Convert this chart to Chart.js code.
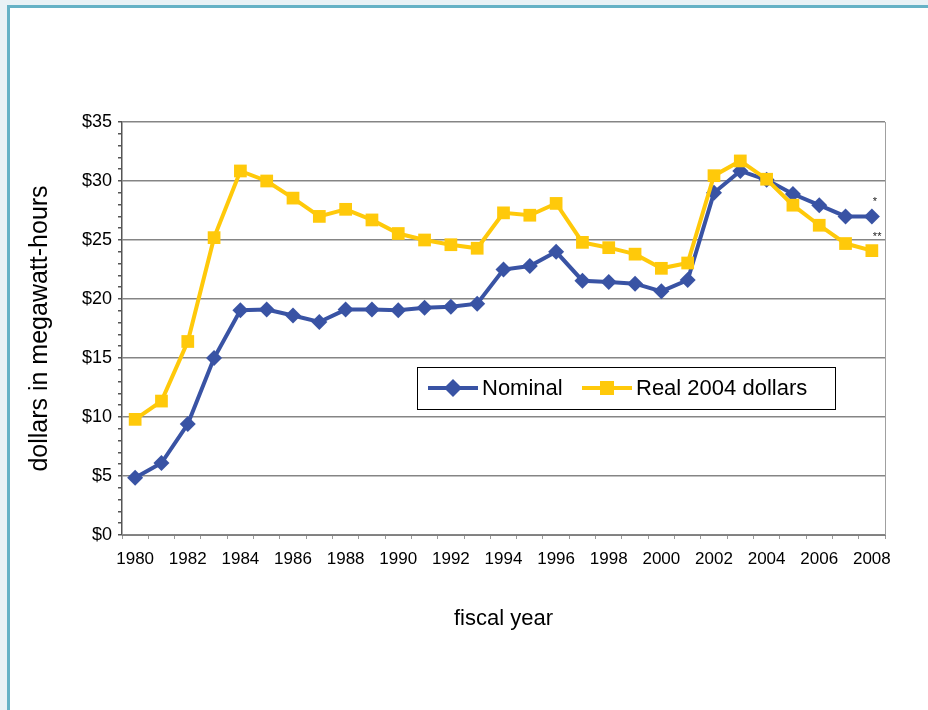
<!DOCTYPE html>
<html>
<head>
<meta charset="utf-8">
<title>dollars in megawatt-hours</title>
<script src="https://cdn.jsdelivr.net/npm/chart.js@4/dist/chart.umd.min.js"></script>
<style>
  html, body { margin: 0; padding: 0; }
  body { width: 928px; height: 710px; background: #e9f2f6; position: relative; overflow: hidden; }
  #frame {
    position: absolute; left: 7px; top: 5px; right: 0; bottom: 0;
    background: #fff; border-left: 3px solid #66b2c6; border-top: 3px solid #66b2c6;
  }
  #wrap { position: absolute; left: 0; top: 0; width: 928px; height: 710px; }
</style>
</head>
<body>
<div id="frame"></div>
<div id="wrap"><canvas id="priceChart" width="928" height="710"></canvas></div>
<script>
// fiscal years 1980-2008
const years = [
  1980, 1981, 1982, 1983, 1984, 1985, 1986, 1987, 1988, 1989,
  1990, 1991, 1992, 1993, 1994, 1995, 1996, 1997, 1998, 1999,
  2000, 2001, 2002, 2003, 2004, 2005, 2006, 2007, 2008
];

// price per megawatt-hour, current dollars
const nominal = [
  4.85, 6.1, 9.4, 15.0, 19.05, 19.1, 18.6, 18.05, 19.1, 19.1,
  19.05, 19.25, 19.35, 19.6, 22.5, 22.8, 24.0, 21.55, 21.45, 21.3,
  20.65, 21.6, 29.0, 30.85, 30.1, 28.9, 27.95, 27.0, 27.0
];

// same prices in real 2004 dollars
const real2004 = [
  9.8, 11.35, 16.4, 25.2, 30.85, 30.0, 28.55, 27.0, 27.6, 26.7,
  25.55, 25.0, 24.6, 24.3, 27.3, 27.1, 28.1, 24.8, 24.35, 23.8,
  22.6, 23.05, 30.45, 31.7, 30.15, 27.95, 26.25, 24.7, 24.1
];

// footnote marks on the last point of each series
const footnotes = ['*', '**'];

const BLUE = '#3953a4';
const YELLOW = '#ffc90a';
const FONT = '"Liberation Sans", Arial, sans-serif';

Chart.defaults.font.family = FONT;
Chart.defaults.color = '#000';

// legend box inside the plot, plus the right border and the footnote marks
const extras = {
  id: 'extras',
  afterDatasetsDraw(chart) {
    const { ctx, chartArea } = chart;
    ctx.save();

    // right edge of plot
    ctx.strokeStyle = '#a0a0a0';
    ctx.lineWidth = 1;
    ctx.beginPath();
    ctx.moveTo(chartArea.right + 0.5, chartArea.top);
    ctx.lineTo(chartArea.right + 0.5, chartArea.bottom);
    ctx.stroke();

    // footnotes
    ctx.fillStyle = '#222';
    ctx.font = '11px ' + FONT;
    ctx.textAlign = 'left';
    ctx.textBaseline = 'middle';
    const last = years.length - 1;
    const x = chart.scales.x.getPixelForValue(last);
    ctx.fillText(footnotes[0], x + 1, chart.scales.y.getPixelForValue(nominal[last]) - 14);
    ctx.fillText(footnotes[1], x + 1, chart.scales.y.getPixelForValue(real2004[last]) - 14);

    // legend
    const bx = 417, by = 367, bw = 418, bh = 42;
    ctx.fillStyle = '#fff';
    ctx.fillRect(bx, by, bw, bh);
    ctx.strokeStyle = '#000';
    ctx.lineWidth = 1;
    ctx.strokeRect(bx + 0.5, by + 0.5, bw, bh);
    const cy = by + bh / 2;

    ctx.strokeStyle = BLUE;
    ctx.lineWidth = 4;
    ctx.beginPath();
    ctx.moveTo(428, cy); ctx.lineTo(478, cy);
    ctx.stroke();
    ctx.fillStyle = BLUE;
    ctx.beginPath();
    ctx.moveTo(453, cy - 9); ctx.lineTo(462, cy); ctx.lineTo(453, cy + 9); ctx.lineTo(444, cy);
    ctx.closePath();
    ctx.fill();

    ctx.strokeStyle = YELLOW;
    ctx.beginPath();
    ctx.moveTo(582, cy); ctx.lineTo(632, cy);
    ctx.stroke();
    ctx.fillStyle = YELLOW;
    ctx.fillRect(600, cy - 7, 14, 14);

    ctx.fillStyle = '#000';
    ctx.font = '22px ' + FONT;
    ctx.textBaseline = 'middle';
    ctx.fillText('Nominal', 482, cy + 1);
    ctx.fillText('Real 2004 dollars', 636, cy + 1);
    ctx.restore();
  }
};

const ctx = document.getElementById('priceChart').getContext('2d');
new Chart(ctx, {
  type: 'line',
  data: {
    labels: years,
    datasets: [
      {
        label: 'Nominal',
        data: nominal,
        borderColor: BLUE,
        backgroundColor: BLUE,
        borderWidth: 4,
        pointStyle: 'rectRot',
        pointRadius: 8,
        pointBorderWidth: 0,
        tension: 0,
        order: 1
      },
      {
        label: 'Real 2004 dollars',
        data: real2004,
        borderColor: YELLOW,
        backgroundColor: YELLOW,
        borderWidth: 4,
        pointStyle: 'rect',
        pointRadius: 9,
        pointBorderWidth: 0,
        tension: 0,
        order: 0
      }
    ]
  },
  options: {
    responsive: false,
    animation: false,
    layout: { padding: { left: 0, top: 122, right: 43, bottom: 0 } },
    plugins: {
      legend: { display: false },
      tooltip: { enabled: false }
    },
    scales: {
      x: {
        type: 'category',
        offset: true,
        afterFit(scale) { scale.height = 175; },
        border: { display: true, color: '#808080', width: 1 },
        grid: {
          offset: true,
          drawOnChartArea: false,
          drawTicks: true,
          tickLength: 4,
          tickColor: '#999'
        },
        ticks: {
          autoSkip: false,
          maxRotation: 0,
          padding: 10,
          font: { size: 17 },
          color: '#000',
          callback(value, index) {
            return years[index] % 2 === 0 ? String(years[index]) : '';
          }
        },
        title: {
          display: true,
          text: 'fiscal year',
          font: { size: 22 },
          color: '#000',
          padding: { top: 0, bottom: 78 }
        }
      },
      y: {
        min: 0,
        max: 35,
        afterFit(scale) { scale.width = 122; },
        border: { display: true, color: '#555', width: 1.5 },
        grid: {
          drawTicks: true,
          tickLength: 4,
          tickColor: '#555',
          lineWidth: 1.5,
          color(c) {
            return c.tick && c.tick.value % 5 === 0 ? '#858585' : 'rgba(0,0,0,0)';
          }
        },
        ticks: {
          stepSize: 1,
          autoSkip: false,
          padding: 6,
          font: { size: 18 },
          color: '#000',
          callback(value) {
            return value % 5 === 0 ? '$' + value : '';
          }
        },
        title: {
          display: true,
          text: 'dollars in megawatt-hours',
          font: { size: 25 },
          color: '#000',
          padding: { top: 25, bottom: 0 }
        }
      }
    }
  },
  plugins: [extras]
});
</script>
</body>
</html>
